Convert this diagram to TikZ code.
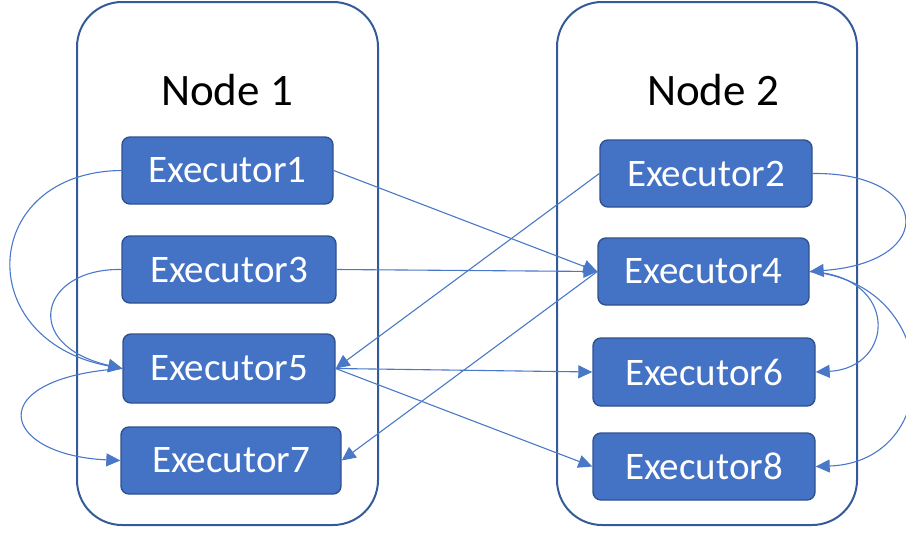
\documentclass[tikz,border=0pt]{standalone}
\usepackage{fontspec}
\setmainfont{Carlito}
\usetikzlibrary{arrows.meta}
\definecolor{exfill}{HTML}{4472C4}
\definecolor{exdraw}{HTML}{2F528F}
\definecolor{boxdraw}{HTML}{345A98}
\definecolor{conn}{HTML}{4A78C8}
\tikzset{
  container/.style={draw=boxdraw, line width=2pt, rounded corners=45pt},
  exec/.style={draw=exdraw, line width=1.4pt, fill=exfill, rounded corners=8pt,
    text=white, font=\fontsize{39}{42}\selectfont, inner sep=0pt, minimum height=67pt},
  title/.style={font=\fontsize{45}{48}\selectfont, text=black, inner sep=0pt},
  link/.style={draw=conn, line width=1.1pt, -{Triangle[length=14pt,width=13pt]}}
}
\begin{document}
\begin{tikzpicture}[x=1pt,y=-1pt]
\useasboundingbox (0,0) rectangle (906,533);
\draw[container] (77,2) rectangle (378,525);
\draw[container] (557,2) rectangle (857,525);
\node[title] (t1) at (227,90) {Node 1};
\node[title] (t2) at (713,90) {Node 2};

\node[exec, minimum width=211pt] (e1) at (227.5,170.5) {Executor1};
\node[exec, minimum width=214pt] (e3) at (229,269.5) {Executor3};
\node[exec, minimum width=212pt, minimum height=69pt] (e5) at (229,368.5) {Executor5};
\node[exec, minimum width=220pt] (e7) at (231,460.5) {Executor7};
\node[exec, minimum width=212pt] (e2) at (706,173.5) {Executor2};
\node[exec, minimum width=211pt] (e4) at (703.5,271.5) {Executor4};
\node[exec, minimum width=222pt, minimum height=68pt] (e6) at (704,372) {Executor6};
\node[exec, minimum width=222pt] (e8) at (704,466.5) {Executor8};

% left-side loops
\draw[link] (e1.west) .. controls (-20,172) and (-30,340) .. (e5.west);
\draw[link] (e3.west) .. controls (40,268) and (20,345) .. (e5.west);
\draw[link] (e5.west) .. controls (-20,378) and (0,455) .. (e7.west);

% right-side loops
\draw[link] (e2.east) .. controls (930,172) and (940,262) .. (e4.east);
\draw[link] (e4.east) .. controls (900,276) and (895,368) .. (e6.east);
\draw[link] (e4.east) .. controls (945,284) and (945,462) .. (e8.east);

% crossing links
\draw[link] (e1.east) -- (e4.west);
\draw[link] (e3.east) -- (e4.west);
\draw[link] (e2.west) -- (e5.east);
\draw[link] (e4.west) -- (e7.east);
\draw[link] (e5.east) -- (e6.west);
\draw[link] (e5.east) -- (e8.west);
\end{tikzpicture}
\end{document}
